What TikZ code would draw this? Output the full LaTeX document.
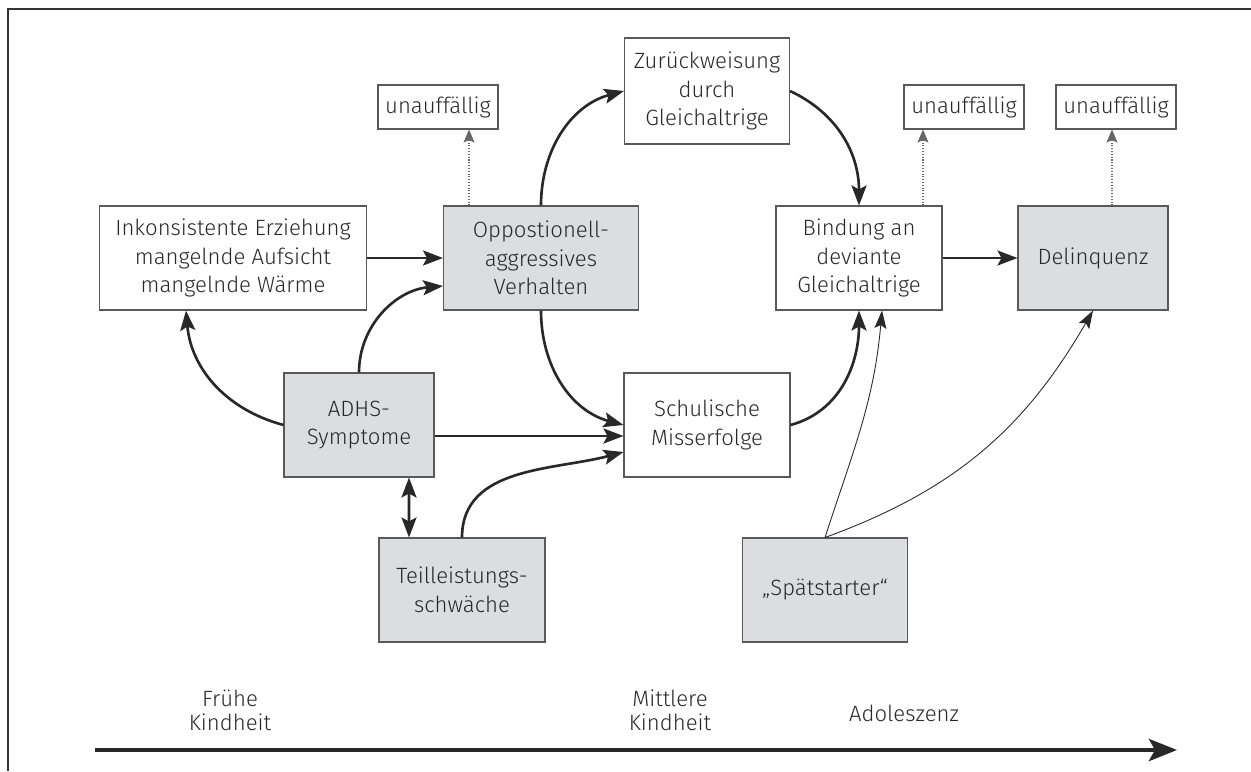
\documentclass[tikz,border=0pt]{standalone}
\usepackage{fontspec}
\setmainfont{Fira Sans Light}
\usetikzlibrary{arrows.meta}
\definecolor{boxgrey}{RGB}{220,221,224}
\definecolor{inkgrey}{RGB}{40,40,40}

\begin{document}
\begin{tikzpicture}[x=0.02cm, y=0.02cm,
    box/.style={draw=black!65, line width=0.6pt, align=center, text=inkgrey, inner sep=0pt,
      font=\fontsize{12.6}{16.2}\selectfont},
    greybox/.style={box, fill=boxgrey},
    conn/.style={-{Stealth[length=0.4cm, width=0.3cm, inset=0.08cm]}, line width=1.5pt, inkgrey},
    fineconn/.style={-{Stealth[length=0.36cm, width=0.24cm, inset=0.07cm]}, line width=0.5pt, inkgrey},
    dotconn/.style={-{Stealth[length=0.26cm, width=0.22cm, inset=0.05cm]}, densely dotted, line width=0.6pt, black!60},
    lbl/.style={align=center, text=inkgrey, font=\fontsize{12.6}{13.6}\selectfont}]
    \useasboundingbox (0,0) rectangle (1251,-771);
    \draw[black!80, line width=0.8pt] (8,-771) -- (8,-9) -- (1251,-9);

    % upper row
    \node[box, minimum width=5.34cm, minimum height=2.08cm]     (erz)   at (233,-258) {Inkonsistente Erziehung\\mangelnde Aufsicht\\mangelnde Wärme};
    \node[greybox, minimum width=3.9cm, minimum height=2.08cm]  (opp)   at (541,-258) {Oppostionell-\\aggressives\\Verhalten};
    \node[box, minimum width=3.3cm, minimum height=2.12cm]      (zur)   at (707,-91)  {Zurückweisung\\durch\\Gleichaltrige};
    \node[box, minimum width=3.32cm, minimum height=2.08cm]     (bind)  at (859,-258) {Bindung an\\deviante\\Gleichaltrige};
    \node[greybox, minimum width=3.0cm, minimum height=2.08cm]  (del)   at (1093,-258) {Delinquenz};
    \node[box, minimum width=2.4cm, minimum height=0.88cm]      (un1)   at (438,-107) {unauffällig};
    \node[box, minimum width=2.4cm, minimum height=0.88cm]      (un2)   at (964,-107) {unauffällig};
    \node[box, minimum width=2.4cm, minimum height=0.88cm]      (un3)   at (1116,-107) {unauffällig};
    % lower rows
    \node[greybox, minimum width=3.0cm, minimum height=2.08cm]  (adhs)  at (359,-425) {ADHS-\\Symptome};
    \node[box, minimum width=3.32cm, minimum height=2.08cm]     (schul) at (707,-425) {Schulische\\Misserfolge};
    \node[greybox, minimum width=3.32cm, minimum height=2.08cm] (teil)  at (462,-590) {Teilleistungs-\\schwäche};
    \node[greybox, minimum width=3.3cm, minimum height=2.08cm]  (spaet) at (825,-590) {„Spätstarter“};

    % connectors
    \draw[conn] (erz.east) -- (opp.west);
    \draw[conn] (adhs.north) to[out=90, in=185] ([yshift=-0.56cm]opp.west);
    \draw[conn] (adhs.west) to[out=165, in=-85] ([xshift=-0.94cm]erz.south);
    \draw[conn] ([yshift=-0.22cm]adhs.east) -- ([yshift=-0.22cm]schul.west);
    \draw[conn] (opp.south) to[out=-90, in=165] (schul.west);
    \draw[conn] (teil.north) to[out=90, in=195] ([yshift=-0.54cm]schul.west);
    \draw[conn] (opp.north) to[out=90, in=195] (zur.west);
    \draw[conn] (zur.east) to[out=-25, in=90] (bind.north);
    \draw[conn] (schul.east) to[out=15, in=-90] (bind.south);
    \draw[conn] (bind.east) -- (del.west);
    \draw[conn, {Stealth[length=0.4cm, width=0.3cm, inset=0.08cm]}-{Stealth[length=0.4cm, width=0.3cm, inset=0.08cm]}]
      ([xshift=1cm]adhs.south) -- ([xshift=-1.06cm]teil.north);
    \draw[fineconn] (spaet.north) to[out=72, in=-95] ([xshift=0.46cm]bind.south);
    \draw[fineconn] (spaet.north) to[out=20, in=-120] (del.south);
    \draw[dotconn] ([xshift=-1.44cm]opp.north) -- ([xshift=-1.44cm]opp.north |- un1.south);
    \draw[dotconn] ([xshift=1.28cm]bind.north) -- ([xshift=1.28cm]bind.north |- un2.south);
    \draw[dotconn] ([xshift=0.38cm]del.north) -- ([xshift=0.38cm]del.north |- un3.south);

    % time axis
    \node[lbl] (frueh) at (230,-710) {Frühe\\Kindheit};
    \node[lbl] (mitte) at (670,-710) {Mittlere\\Kindheit};
    \node[lbl] (adol)  at (904,-713) {Adoleszenz};
    \coordinate (t0) at (95,-750);
    \coordinate (t1) at (1177,-750);
    \draw[-{Stealth[length=0.56cm, width=0.44cm, inset=0.12cm]}, line width=2.7pt, inkgrey] (t0) -- (t1);
\end{tikzpicture}
\end{document}
